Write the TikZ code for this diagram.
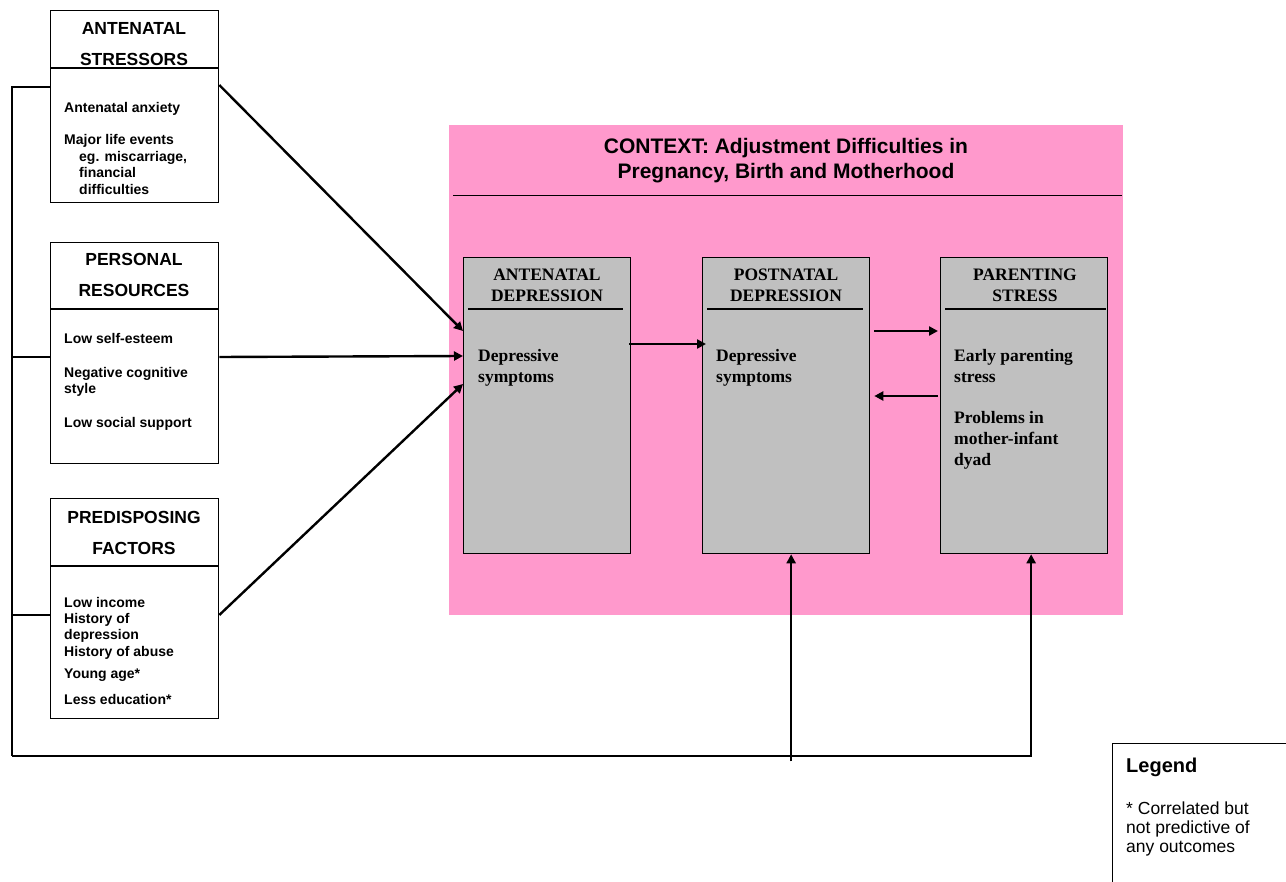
\documentclass[tikz,border=0pt]{standalone}
\usepackage{fontspec}
\setmainfont{Liberation Serif}
\setsansfont{Liberation Sans}
\usetikzlibrary{arrows.meta,calc}
\definecolor{pinkbg}{HTML}{FF99CC}
\definecolor{graybox}{HTML}{C0C0C0}
\begin{document}
\begin{tikzpicture}[x=1pt,y=-1pt,
  wbox/.style={draw, line width=1.3pt, fill=white, inner sep=0, anchor=north west},
  gbox/.style={draw, line width=1.3pt, fill=graybox, inner sep=0, anchor=north west, minimum width=167pt, minimum height=296pt},
  hdr/.style={font=\sffamily\bfseries\fontsize{17.5}{20}\selectfont, anchor=base, inner sep=0},
  item/.style={font=\sffamily\bfseries\fontsize{14}{16}\selectfont, anchor=base west, inner sep=0},
  ghdr/.style={font=\rmfamily\bfseries\fontsize{17.5}{20}\selectfont, anchor=base, inner sep=0},
  gitem/.style={font=\rmfamily\bfseries\fontsize{17.5}{20}\selectfont, anchor=base west, inner sep=0},
  ttl/.style={font=\sffamily\bfseries\fontsize{21}{25}\selectfont, anchor=base, inner sep=0},
  leg/.style={font=\sffamily\fontsize{17.5}{20}\selectfont, anchor=base west, inner sep=0},
  divider/.style={line width=1.3pt},
  conn/.style={line width=2.4pt},
  arr/.style={conn, -{Triangle[length=9pt,width=9pt]}}]
\useasboundingbox (0,0) rectangle (1286,882);
\fill[white] (0,0) rectangle (1286,882);

% context background
\node[fill=pinkbg, inner sep=0, anchor=north west, minimum width=674pt, minimum height=490pt] (ctx) at (449,125) {};
\draw[line width=1pt] ($(ctx.north west)+(4,71)$) -- ($(ctx.north east)+(-1,71)$);
\node[ttl] (t1) at (786,153.5) {CONTEXT: Adjustment Difficulties in};
\node[ttl] (t2) at (786,178.5) {Pregnancy, Birth and Motherhood};

% left boxes
\node[wbox, minimum width=168pt, minimum height=192pt] (b1) at (50,10) {};
\draw[divider] ($(b1.north west)+(0,58)$) -- ($(b1.north east)+(0,58)$);
\node[hdr] (h1a) at (134,34.5) {ANTENATAL};
\node[hdr] (h1b) at (134,66) {STRESSORS};
\node[item] (i1a) at (64,113) {Antenatal anxiety};
\node[item] (i1b) at (64,145) {Major life events};
\node[item] (i1c) at (79,162) {eg. miscarriage,};
\node[item] (i1d) at (79,178) {financial};
\node[item] (i1e) at (79,195) {difficulties};

\node[wbox, minimum width=168pt, minimum height=221pt] (b2) at (50,242) {};
\draw[divider] ($(b2.north west)+(0,67)$) -- ($(b2.north east)+(0,67)$);
\node[hdr] (h2a) at (134,265.5) {PERSONAL};
\node[hdr] (h2b) at (134,296.5) {RESOURCES};
\node[item] (i2a) at (64,344) {Low self-esteem};
\node[item] (i2b) at (64,378) {Negative cognitive};
\node[item] (i2c) at (64,394) {style};
\node[item] (i2d) at (64,428) {Low social support};

\node[wbox, minimum width=168pt, minimum height=220pt] (b3) at (50,498) {};
\draw[divider] ($(b3.north west)+(0,68)$) -- ($(b3.north east)+(0,68)$);
\node[hdr] (h3a) at (134,523.5) {PREDISPOSING};
\node[hdr] (h3b) at (134,554.5) {FACTORS};
\node[item] (i3a) at (64,607) {Low income};
\node[item] (i3b) at (64,623) {History of};
\node[item] (i3c) at (64,639) {depression};
\node[item] (i3d) at (64,656) {History of abuse};
\node[item] (i3e) at (64,678) {Young age*};
\node[item] (i3f) at (64,704) {Less education*};

% grey boxes
\node[gbox] (ad) at (463,257) {};
\draw[divider] ($(ad.north west)+(5,52)$) -- ($(ad.north east)+(-8,52)$);
\node[ghdr] (ada) at (547,281) {ANTENATAL};
\node[ghdr] (adb) at (547,302) {DEPRESSION};
\node[gitem] (adc) at (478,362) {Depressive};
\node[gitem] (add) at (478,383) {symptoms};

\node[gbox] (pd) at (702,257) {};
\draw[divider] ($(pd.north west)+(5,52)$) -- ($(pd.north east)+(-7,52)$);
\node[ghdr] (pda) at (786,281) {POSTNATAL};
\node[ghdr] (pdb) at (786,302) {DEPRESSION};
\node[gitem] (pdc) at (716,362) {Depressive};
\node[gitem] (pdd) at (716,383) {symptoms};

\node[gbox] (ps) at (940,257) {};
\draw[divider] ($(ps.north west)+(5,52)$) -- ($(ps.north east)+(-2,52)$);
\node[ghdr] (psa) at (1025,281) {PARENTING};
\node[ghdr] (psb) at (1025,302) {STRESS};
\node[gitem] (psc) at (954,362) {Early parenting};
\node[gitem] (psd) at (954,383) {stress};
\node[gitem] (pse) at (954,424) {Problems in};
\node[gitem] (psf) at (954,445) {mother-infant};
\node[gitem] (psg) at (954,466) {dyad};

% legend
\node[wbox, minimum width=190pt, minimum height=160pt] (lg) at (1112,743) {};
\node[font=\sffamily\bfseries\fontsize{20}{24}\selectfont, anchor=base west, inner sep=0] (lga) at (1126,772) {Legend};
\node[leg] (lgb) at (1126,814) {* Correlated but};
\node[leg] (lgc) at (1126,833) {not predictive of};
\node[leg] (lgd) at (1126,852) {any outcomes};

% bus on the left
\coordinate (busT) at (12,87);
\coordinate (busB) at (12,756);
\draw[conn] ($(b1.north west)+(0,77)$) -- (busT) -- (busB);
\draw[conn] ($(b2.north west)+(0,115)$) -- ($(b2.north west)+(-38,115)$);
\draw[conn] ($(b3.north west)+(0,117)$) -- ($(b3.north west)+(-38,117)$);
\draw[arr] (busB) -| ($(ps.south)+(7,0)$);
\draw[arr] ($(pd.south)+(5,207)$) -- ($(pd.south)+(5,0)$);

% arrows into antenatal depression
\draw[arr] ($(b1.north east)+(0,75)$) -- ($(ad.north west)+(0,74)$);
\draw[arr] ($(b2.north east)+(0,115)$) -- ($(ad.north west)+(0,99)$);
\draw[arr] ($(b3.north east)+(0,117)$) -- ($(ad.north west)+(0,127)$);

% arrows between grey boxes
\draw[arr] ($(ad.north east)+(-2,87)$) -- ($(pd.north west)+(4,87)$);
\draw[arr] ($(pd.north east)+(4,74)$) -- ($(ps.north west)+(-2,74)$);
\draw[arr] ($(ps.north west)+(-2,139)$) -- ($(pd.north east)+(4,139)$);
\end{tikzpicture}
\end{document}
